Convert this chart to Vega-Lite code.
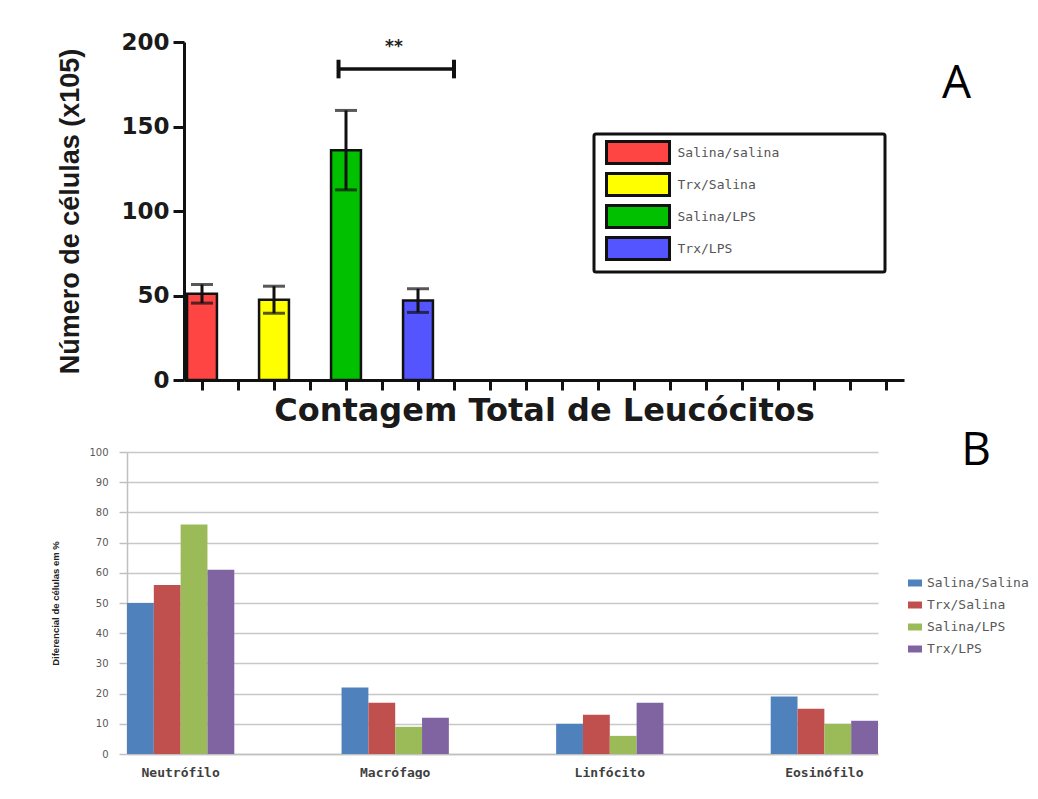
{
  "$schema": "https://vega.github.io/schema/vega-lite/v6.json",
  "background": "white",
  "padding": {"left": 50, "top": 31, "right": 0, "bottom": 0},
  "columns": 1,
  "align": "none",
  "spacing": 1,
  "config": {"view": {"stroke": null}, "legend": {"strokeWidth": 3}},
  "datasets": {
    "totals": [
      {"group": "Salina/salina", "mean": 51, "lo": 45.5, "hi": 56.5},
      {"group": "Trx/Salina", "mean": 47.5, "lo": 39.5, "hi": 55.5},
      {"group": "Salina/LPS", "mean": 136, "lo": 112.5, "hi": 159.5},
      {"group": "Trx/LPS", "mean": 47, "lo": 40, "hi": 54}
    ],
    "bracket": [
      {"from": "Salina/LPS", "to": "s8", "mid": "s6", "y": 184, "ylo": 178.5, "yhi": 189.5, "label": "**", "ytext": 197}
    ],
    "diff": [
      {"cell": "Neutrófilo", "series": "Salina/Salina", "pct": 50},
      {"cell": "Neutrófilo", "series": "Trx/Salina", "pct": 56},
      {"cell": "Neutrófilo", "series": "Salina/LPS", "pct": 76},
      {"cell": "Neutrófilo", "series": "Trx/LPS", "pct": 61},
      {"cell": "Macrófago", "series": "Salina/Salina", "pct": 22},
      {"cell": "Macrófago", "series": "Trx/Salina", "pct": 17},
      {"cell": "Macrófago", "series": "Salina/LPS", "pct": 9},
      {"cell": "Macrófago", "series": "Trx/LPS", "pct": 12},
      {"cell": "Linfócito", "series": "Salina/Salina", "pct": 10},
      {"cell": "Linfócito", "series": "Trx/Salina", "pct": 13},
      {"cell": "Linfócito", "series": "Salina/LPS", "pct": 6},
      {"cell": "Linfócito", "series": "Trx/LPS", "pct": 17},
      {"cell": "Eosinófilo", "series": "Salina/Salina", "pct": 19},
      {"cell": "Eosinófilo", "series": "Trx/Salina", "pct": 15},
      {"cell": "Eosinófilo", "series": "Salina/LPS", "pct": 10},
      {"cell": "Eosinófilo", "series": "Trx/LPS", "pct": 11}
    ]
  },
  "resolve": {"scale": {"color": "independent", "x": "independent", "y": "independent"}, "legend": {"color": "independent"}},
  "concat": [
    {
      "width": 777,
      "height": 338,
      "title": {"text": "A", "anchor": "end", "frame": "group", "orient": "top", "font": "Open Sans", "fontSize": 46, "fontWeight": "normal", "color": "#000", "offset": 0, "dx": 67, "dy": 113, "baseline": "alphabetic"},
      "layer": [
        {
          "data": {"name": "totals"},
          "mark": {"type": "bar", "stroke": "#111", "strokeWidth": 2.5},
          "encoding": {
            "x": {
              "field": "group", "type": "nominal", "sort": null,
              "scale": {"domain": ["Salina/salina", "s2", "Trx/Salina", "s4", "Salina/LPS", "s6", "Trx/LPS", "s8", "s9", "s10", "s11", "s12", "s13", "s14", "s15", "s16", "s17", "s18", "s19", "s20"], "range": [57, 777], "paddingInner": 0.17, "paddingOuter": 0.085},
              "axis": {"labels": false, "title": "Contagem Total de Leucócitos", "titleFont": "DejaVu Sans", "titleFontWeight": "bold", "titleFontSize": 32, "titleColor": "#1a1a1a", "titlePadding": 4, "domainColor": "#111", "domainWidth": 3, "tickColor": "#111", "tickWidth": 3, "tickSize": 10}
            },
            "y": {
              "field": "mean", "type": "quantitative",
              "scale": {"domain": [0, 200], "nice": false},
              "axis": {"offset": -57, "values": [0, 50, 100, 150, 200], "grid": false, "title": "Número de células  (x105)", "titleFont": "Liberation Sans", "titleFontWeight": "bold", "titleFontSize": 27, "titleColor": "#1a1a1a", "titlePadding": 36, "labelFont": "DejaVu Sans", "labelFontWeight": "bold", "labelFontSize": 23, "labelColor": "#1a1a1a", "labelPadding": 4, "domainColor": "#111", "domainWidth": 3, "tickColor": "#111", "tickWidth": 3, "tickSize": 11}
            },
            "color": {
              "field": "group", "type": "nominal", "sort": null,
              "scale": {"domain": ["Salina/salina", "Trx/Salina", "Salina/LPS", "Trx/LPS"], "range": ["#FF4444", "#FFFF00", "#00C000", "#5555FF"]},
              "legend": {"orient": "none", "legendX": 467, "legendY": 92, "title": "Grupos", "titleOrient": "right", "titleFont": "DejaVu Sans Mono", "titleFontSize": 26, "titleOpacity": 0, "titlePadding": 6, "direction": "vertical", "symbolType": "M-2.864,-1H2.864V1H-2.864Z", "symbolSize": 484, "symbolStrokeColor": "#111", "symbolStrokeWidth": 3, "symbolOpacity": 1, "symbolOffset": 25.5, "labelOffset": 27, "labelFont": "DejaVu Sans Mono", "labelFontSize": 13, "labelColor": "#555", "labelLimit": 600, "rowPadding": -3, "padding": 6, "strokeColor": "#111", "cornerRadius": 2, "fillColor": "white"}
            }
          }
        },
        {
          "data": {"name": "totals"},
          "mark": {"type": "rule", "color": "#111", "strokeWidth": 3},
          "encoding": {
            "x": {"field": "group", "type": "nominal"},
            "y": {"field": "lo", "type": "quantitative"},
            "y2": {"field": "hi"}
          }
        },
        {
          "data": {"name": "totals"},
          "mark": {"type": "tick", "color": "#111", "thickness": 3, "size": 22, "orient": "horizontal"},
          "encoding": {
            "x": {"field": "group", "type": "nominal"},
            "y": {"field": "hi", "type": "quantitative"}
          }
        },
        {
          "data": {"name": "totals"},
          "mark": {"type": "tick", "color": "#111", "thickness": 3, "size": 22, "orient": "horizontal"},
          "encoding": {
            "x": {"field": "group", "type": "nominal"},
            "y": {"field": "lo", "type": "quantitative"}
          }
        },
        {
          "data": {"name": "bracket"},
          "mark": {"type": "rule", "color": "#111", "strokeWidth": 3.5},
          "encoding": {
            "x": {"field": "from", "type": "nominal", "bandPosition": 0.25},
            "x2": {"field": "to", "bandPosition": 0.5},
            "y": {"field": "y", "type": "quantitative"}
          }
        },
        {
          "data": {"name": "bracket"},
          "mark": {"type": "rule", "color": "#111", "strokeWidth": 4},
          "encoding": {
            "x": {"field": "from", "type": "nominal", "bandPosition": 0.25},
            "y": {"field": "ylo", "type": "quantitative"},
            "y2": {"field": "yhi"}
          }
        },
        {
          "data": {"name": "bracket"},
          "mark": {"type": "rule", "color": "#111", "strokeWidth": 4},
          "encoding": {
            "x": {"field": "to", "type": "nominal"},
            "y": {"field": "ylo", "type": "quantitative"},
            "y2": {"field": "yhi"}
          }
        },
        {
          "data": {"name": "bracket"},
          "mark": {"type": "text", "font": "DejaVu Sans", "fontWeight": "bold", "fontSize": 17, "color": "#222", "baseline": "middle", "align": "center"},
          "encoding": {
            "x": {"field": "mid", "type": "nominal", "bandPosition": 0.9},
            "y": {"field": "ytext", "type": "quantitative"},
            "text": {"field": "label"}
          }
        }
      ]
    },
    {
      "width": 751,
      "height": 302,
      "title": {"text": "B", "anchor": "end", "frame": "group", "orient": "top", "font": "Open Sans", "fontSize": 46, "fontWeight": "normal", "color": "#000", "offset": 0, "dx": 113, "dy": 64, "baseline": "alphabetic"},
      "data": {"name": "diff"},
      "mark": {"type": "bar"},
      "encoding": {
        "x": {
          "field": "cell", "type": "nominal", "sort": null,
          "scale": {"domain": ["Neutrófilo", "Macrófago", "Linfócito", "Eosinófilo"], "paddingInner": 0.5, "paddingOuter": 0},
          "axis": {"title": null, "labelAngle": 0, "labelFont": "DejaVu Sans Mono", "labelFontWeight": "bold", "labelFontSize": 13, "labelColor": "#404040", "labelPadding": 12, "ticks": false, "domainColor": "#c0c0c0", "domainWidth": 1.5}
        },
        "xOffset": {
          "field": "series", "type": "nominal", "sort": null,
          "scale": {"domain": ["Salina/Salina", "Trx/Salina", "Salina/LPS", "Trx/LPS"], "paddingInner": 0, "paddingOuter": 0}
        },
        "y": {
          "field": "pct", "type": "quantitative",
          "scale": {"domain": [0, 100], "nice": false},
          "axis": {"values": [0, 10, 20, 30, 40, 50, 60, 70, 80, 90, 100], "title": "Diferencial de células em %", "titleFont": "Liberation Sans", "titleFontSize": 9.5, "titleFontWeight": "bold", "titleColor": "#222", "titlePadding": 28, "labelFont": "DejaVu Sans", "labelFontSize": 10, "labelColor": "#595959", "labelPadding": 11, "tickSize": 8, "tickColor": "#c0c0c0", "tickWidth": 1.5, "domainColor": "#c0c0c0", "domainWidth": 1.5, "grid": true, "gridColor": "#c8c8c8", "gridWidth": 1.5}
        },
        "color": {
          "field": "series", "type": "nominal", "sort": null,
          "scale": {"domain": ["Salina/Salina", "Trx/Salina", "Salina/LPS", "Trx/LPS"], "range": ["#4F81BD", "#C0504D", "#9BBB59", "#8064A2"]},
          "legend": {"orient": "none", "legendX": 781, "legendY": 124, "title": null, "symbolType": "M-1,-0.5H1V0.5H-1Z", "symbolSize": 196, "symbolStrokeWidth": 0, "symbolOpacity": 1, "labelOffset": 5, "labelFont": "DejaVu Sans Mono", "labelFontSize": 13, "labelColor": "#595959", "labelLimit": 300, "rowPadding": 8, "padding": 0}
        }
      }
    }
  ]
}
